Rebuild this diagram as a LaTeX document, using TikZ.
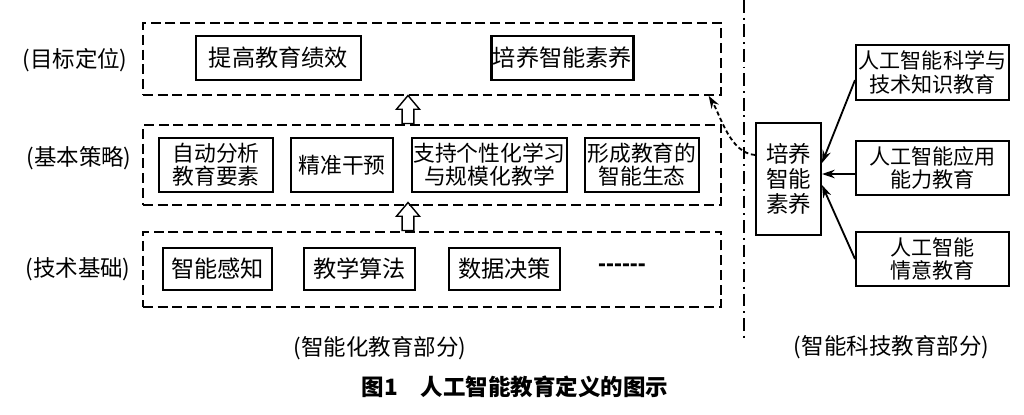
\documentclass[tikz,border=0pt]{standalone}
\usepackage{fontspec}
\setmainfont{Liberation Serif}
\newfontfamily\cjk{Noto Sans CJK SC}
\newfontfamily\dashfont{Liberation Sans}
\usetikzlibrary{arrows.meta,shapes.arrows}

\begin{document}
\begin{tikzpicture}[x=0.025cm,y=-0.025cm,font=\cjk\fontsize{16}{17}\selectfont,
  frame/.style={draw,dash pattern=on 7pt off 3.5pt,line width=1.1pt,minimum width=14.45cm},
  box/.style={draw,line width=1.6pt,inner sep=1pt,align=center},
  bigtext/.style={font=\cjk\fontsize{16.5}{17}\selectfont},
  smalltext/.style={font=\cjk\fontsize{15.5}{16.5}\selectfont},
  rbox/.style={box,line width=1.4pt,minimum width=3.825cm,font=\cjk\fontsize{15}{16.5}\selectfont},
  uparrow/.style={draw,single arrow,rotate=90,line width=1pt,minimum height=0.7cm,inner xsep=0pt,inner ysep=0.13cm,
    single arrow head extend=0.14cm,single arrow tip angle=80},
  feed/.style={-{Stealth[length=9pt,width=6pt]},line width=1.3pt}]
\useasboundingbox (0,0) rectangle (1024,414);

\node[frame,minimum height=1.8cm](goalframe) at (432,59){};
\node[frame,minimum height=2cm](stratframe) at (432,165){};
\node[frame,minimum height=1.875cm](techframe) at (432,269.5){};

\node(goallbl) at (75,60){(目标定位)};
\node(stratlbl) at (79,158){(基本策略)};
\node(techlbl) at (78,269){(技术基础)};

\node[box,bigtext,minimum width=4.125cm,minimum height=1.1cm](perf) at (278.5,58){提高教育绩效};
\node[box,bigtext,minimum width=3.525cm,minimum height=1.1cm](litgoal) at (562.5,58){培养智能素养};

\node[box,smalltext,minimum width=2.85cm,minimum height=1.35cm](analyze) at (216,165){自动分析\\教育要素};
\node[box,smalltext,minimum width=2.55cm,minimum height=1.35cm](intervene) at (342,165){精准干预};
\node[box,smalltext,minimum width=3.875cm,minimum height=1.35cm](personal) at (489.5,165){支持个性化学习\\与规模化教学};
\node[box,smalltext,minimum width=2.85cm,minimum height=1.35cm](ecology) at (642,165){形成教育的\\智能生态};

\node[box,bigtext,minimum width=2.725cm,minimum height=1.05cm](perceive) at (217.5,269){智能感知};
\node[box,bigtext,minimum width=2.775cm,minimum height=1.05cm](algo) at (359.5,269){教学算法};
\node[box,bigtext,minimum width=2.775cm,minimum height=1.05cm](decide) at (504.5,269){数据决策};
\node[font=\dashfont\bfseries\fontsize{17}{18}\selectfont](more) at (622,268){-{}-{}-{}-{}-{}-};

\coordinate(arrx) at (408,0);
\node[uparrow,anchor=tail](up1) at (stratframe.north -| arrx){};
\node[uparrow,anchor=tail](up2) at (techframe.north -| arrx){};

\coordinate(septop) at (744,0);
\coordinate(sepbot) at (744,342);
\draw[line width=1.6pt,dash pattern=on 9pt off 3.5pt on 1.4pt off 3.5pt](septop)--(sepbot);

\node[box,line width=1.4pt,minimum width=1.625cm,minimum height=2.8cm,font=\cjk\fontsize{16}{17.7}\selectfont](litcore) at (788.5,179){培养\\智能\\素养};
\node[rbox,minimum height=1.375cm](kbox) at (932.5,72.5){人工智能科学与\\技术知识教育};
\node[rbox,minimum height=1.35cm](abox) at (932.5,168){人工智能应用\\能力教育};
\node[rbox,minimum height=1.35cm](ebox) at (932.5,259){人工智能\\情意教育};

\draw[feed]([yshift=-0.19cm]kbox.west)--([yshift=0.4cm]litcore.east);
\draw[feed]([yshift=-0.15cm]abox.west)--([yshift=-0.15cm]abox.west -| litcore.east);
\draw[feed](ebox.west)--([yshift=-0.15cm]litcore.east);
\draw[feed,dash pattern=on 3pt off 2pt]([yshift=0.6cm]litcore.west) .. controls +(-25,-2) and +(12,20) .. ([xshift=-0.33cm]goalframe.south east);

\node(leftpart) at (380,348){(智能化教育部分)};
\node(rightpart) at (891.5,347){(智能科技教育部分)};
\node[font=\cjk\bfseries\fontsize{16}{17}\selectfont](caption) at (515,387){图1\quad 人工智能教育定义的图示};
\end{tikzpicture}
\end{document}
